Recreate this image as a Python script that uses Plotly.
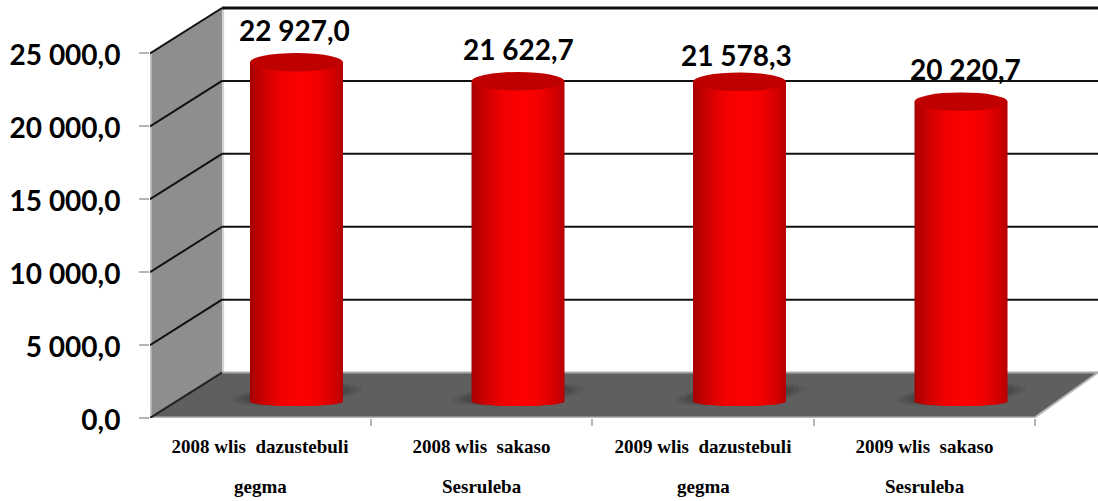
import math
import plotly.graph_objects as go

# ---- data ----
line_one = ["2008 wlis\u00a0 dazustebuli", "2008 wlis\u00a0 sakaso", "2009 wlis\u00a0 dazustebuli", "2009 wlis\u00a0 sakaso"]
line_two = ["gegma", "Sesruleba", "gegma", "Sesruleba"]
values = [22927.0, 21622.7, 21578.3, 20220.7]
y_ticks = [0, 5000, 10000, 15000, 20000, 25000]

# ---- pixel geometry of the drawing ----
W, H = 1098, 501
LEFT, FLOOR_Y = 150, 418.5
CAT_STEP = 221.5
CAT0 = 260
PX_PER_UNIT = 73 / 5000

def ux(px):
    return px / CAT_STEP

def uy(px):
    return px / PX_PER_UNIT

def fmt(v, dec=1):
    s = f"{v:,.{dec}f}"
    return s.replace(",", " ").replace(".", ",")

x_min = (LEFT - CAT0) / CAT_STEP
x_max = (W - CAT0) / CAT_STEP
y_max = FLOOR_Y / PX_PER_UNIT
wall_dx = ux(72)
wall_dy = uy(45.5)
x_front_end = (1034 - CAT0) / CAT_STEP
bar_dx = ux(36.5)
top_lift = uy(21.5)
foot_lift = uy(16.5)
half_w = ux(46.5)

# ---- cylinder shading: strips painted from the outer edges towards the centre ----
N = 24
def shade(t):
    stops = [(-1, 165), (-0.7, 205), (-0.35, 240), (0.1, 255), (0.5, 240), (0.85, 205), (1, 180)]
    for (a, ca), (b, cb) in zip(stops, stops[1:]):
        if a <= t <= b:
            r = ca + (cb - ca) * (t - a) / (b - a)
            return f"rgb({round(r)},0,0)"
    return "rgb(255,0,0)"

sx, sw, sb, sy, sc = [], [], [], [], []
for i, v in enumerate(values):
    cx = i + bar_dx
    for k in range(N):
        f = 1 - k / N                      # outer position of this strip, 1 at the rim
        tm = f - 0.5 / N
        for side in (-1, 1):
            base = foot_lift - uy(4.5) * math.sqrt(max(0, 1 - tm * tm))
            sx.append(cx + side * f * half_w / 2)
            sw.append(f * half_w)
            sb.append(base)
            sy.append(v + top_lift - base)
            sc.append(shade(side * tm))

fig = go.Figure()
fig.add_trace(go.Bar(x=sx, y=sy, base=sb, width=sw,
                     marker=dict(color=sc, line=dict(width=0)),
                     hoverinfo="skip", showlegend=False))

shapes = []
def poly(points, fill, line_color=None, line_width=0, layer="below"):
    path = "M " + " L ".join(f"{x},{y}" for x, y in points) + " Z"
    shapes.append(dict(type="path", xref="x", yref="y", path=path, fillcolor=fill, layer=layer,
                       line=dict(color=line_color or fill, width=line_width)))

def seg(x0, y0, x1, y1, color, width, layer="below"):
    shapes.append(dict(type="line", xref="x", yref="y", x0=x0, y0=y0, x1=x1, y1=y1, layer=layer,
                       line=dict(color=color, width=width)))

top_tick = y_ticks[-1]
# left wall
poly([(x_min, 0), (x_min, top_tick), (x_min + wall_dx, top_tick + wall_dy), (x_min + wall_dx, wall_dy)], "#8e8e8e")
seg(x_min + 0.003, 0, x_min + 0.003, top_tick, "#c4c4c4", 2)
seg(x_min + wall_dx + 0.005, wall_dy, x_min + wall_dx + 0.005, top_tick + wall_dy, "#d0d0d0", 2)
# floor
poly([(x_min, 0), (x_min + wall_dx, wall_dy), (x_max, wall_dy), (x_front_end, 0)], "#5f5f5f")
seg(x_min + wall_dx, wall_dy, x_max, wall_dy, "#a8a8a8", 2)
seg(x_min, 0, x_front_end, 0, "#b5b5b5", 3)
seg(x_front_end, 0, x_max, wall_dy, "#b5b5b5", 2)
# gridlines
for k, tv in enumerate(y_ticks):
    if tv == 0:
        seg(x_min, tv, x_min + wall_dx, tv + wall_dy, "#222222", 2)
        continue
    is_top = tv == top_tick
    seg(x_min, tv, x_min + wall_dx, tv + wall_dy, "#111111", 2)
    seg(x_min + wall_dx, tv + wall_dy, x_max, tv + wall_dy, "#111111", 3 if is_top else 2)
# tilted soft shadows and cylinder tops
for i, v in enumerate(values):
    cx = i + bar_dx
    for rx, ry, alpha in ((66, 10, 0.09), (60, 9, 0.12), (54, 8, 0.16)):
        pts = []
        for a in range(36):
            th = 2 * math.pi * a / 36
            px = rx * math.cos(th)
            py = ry * math.sin(th) + 0.085 * px
            pts.append((cx + ux(px), foot_lift + uy(7) + uy(py)))
        poly(pts, f"rgba(30,30,30,{alpha})")
    shapes.append(dict(type="circle", xref="x", yref="y", layer="above",
                       x0=cx - half_w, x1=cx + half_w,
                       y0=v + top_lift - uy(9.25), y1=v + top_lift + uy(9.25),
                       fillcolor="#bf0000", line=dict(width=0)))

label_dy = [0, 0, -6, 0]
label_dx = [-2, 0, -3, 4]
annotations = [dict(x=i + bar_dx, y=v + top_lift + uy(32.5), yshift=label_dy[i], xshift=label_dx[i], text=fmt(v),
                    showarrow=False, xanchor="center", yanchor="middle",
                    font=dict(family="Lato", size=28, color="#000000", weight="bold"))
               for i, v in enumerate(values)]
annotations += [dict(x=i, xref="x", y=0, yref="y", yshift=-68, text=t,
                     showarrow=False, xanchor="center", yanchor="middle",
                     font=dict(family="Liberation Serif", size=19, color="#000000", weight="bold"))
                for i, t in enumerate(line_two)]

fig.update_layout(
    width=W, height=H, autosize=False,
    margin=dict(l=LEFT, r=0, t=0, b=H - FLOOR_Y),
    paper_bgcolor="white", plot_bgcolor="white",
    barmode="overlay", showlegend=False,
    shapes=shapes, annotations=annotations,
    xaxis=dict(range=[x_min, x_max], showgrid=False, zeroline=False, showline=False,
               tickmode="array", tickvals=list(range(len(line_one))),
               ticktext=line_one,
               ticks="", ticklabelstandoff=15,
               tickfont=dict(family="Liberation Serif", size=19, color="#000000", weight="bold"),
               minor=dict(tickmode="array", tickvals=[-0.5, 0.5, 1.5, 2.5, 3.5], ticks="outside",
                          ticklen=7, tickwidth=2, tickcolor="#b5b5b5", showgrid=False)),
    yaxis=dict(range=[0, y_max], showgrid=False, zeroline=False, showline=False,
               tickmode="array", tickvals=y_ticks, ticktext=[fmt(t) for t in y_ticks],
               ticks="outside", ticklen=10, tickwidth=2, tickcolor="#b5b5b5", ticklabelstandoff=13,
               ticklabelshift=2,
               tickfont=dict(family="Lato", size=28, color="#000000", weight="bold")),
)
fig.write_html("out.html", config=dict(displayModeBar=False),
               post_script="document.body.style.margin='0';")
